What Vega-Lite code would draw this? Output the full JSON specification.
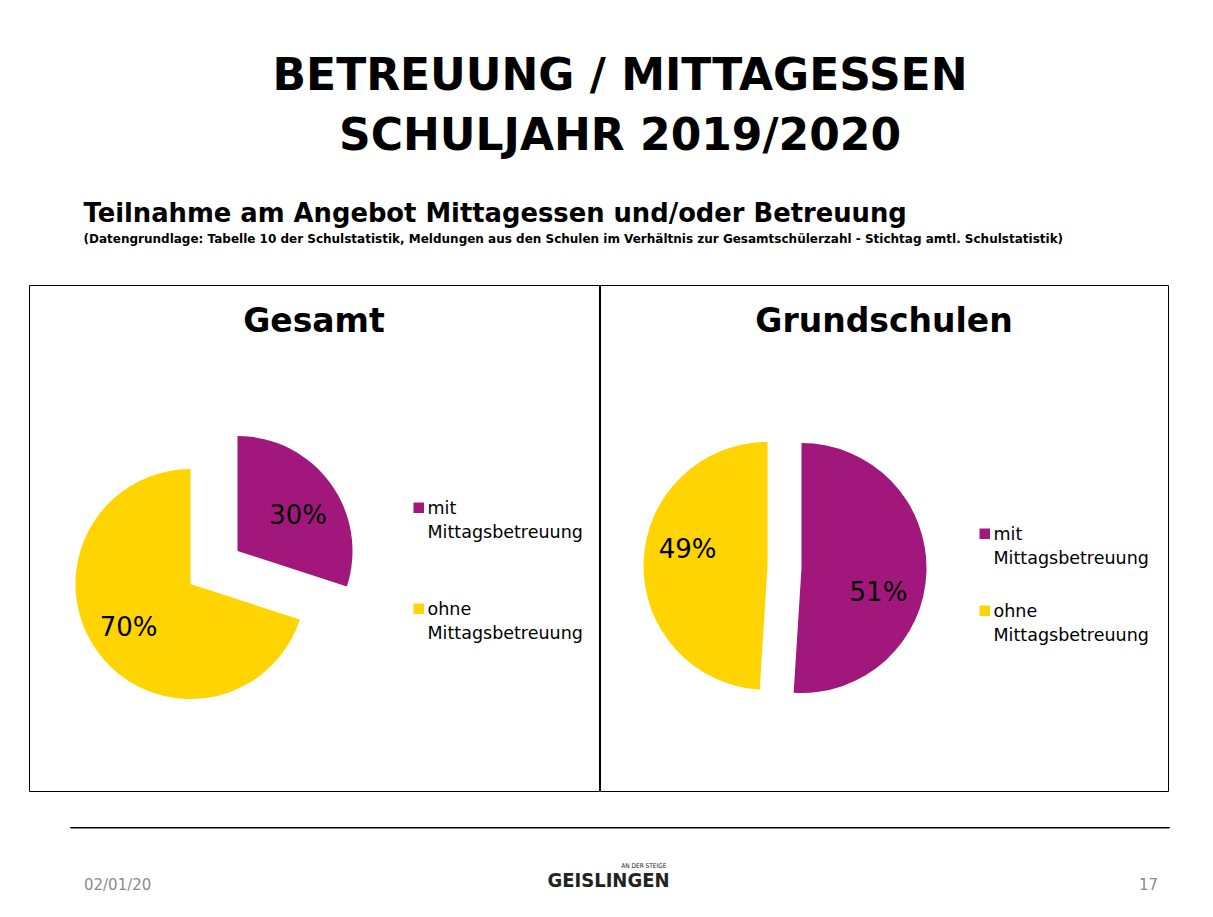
{
  "$schema": "https://vega.github.io/schema/vega-lite/v6.json",
  "background": "white",
  "padding": {"left": 28, "top": 54, "right": 0, "bottom": 0},
  "autosize": {"type": "pad"},
  "config": {
    "font": "DejaVu Sans",
    "view": {"stroke": null},
    "title": {"color": "black"},
    "style": {"guide-label": {"lineHeight": 24}}
  },
  "title": {
    "text": ["BETREUUNG / MITTAGESSEN", "SCHULJAHR 2019/2020"],
    "font": "DejaVu Sans",
    "fontSize": 44,
    "fontWeight": "bold",
    "lineHeight": 60,
    "anchor": "middle",
    "dx": 21,
    "offset": 42,
    "color": "black"
  },
  "datasets": {
    "gesamt": [
      {"kategorie": "mit Mittagsbetreuung", "anteil": 0.30},
      {"kategorie": "ohne Mittagsbetreuung", "anteil": 0.70}
    ],
    "grundschulen": [
      {"kategorie": "mit Mittagsbetreuung", "anteil": 0.51},
      {"kategorie": "ohne Mittagsbetreuung", "anteil": 0.49}
    ],
    "fusszeile": [
      {"position": "links", "teil": "datum", "text": "02/01/20"},
      {"position": "mitte", "teil": "logo", "text": "GEISLINGEN"},
      {"position": "mitte", "teil": "zusatz", "text": "AN DER STEIGE"},
      {"position": "rechts", "teil": "seite", "text": "17"}
    ]
  },
  "spacing": 34,
  "vconcat": [
    {
      "title": {
        "text": "Teilnahme am Angebot Mittagessen und/oder Betreuung",
        "subtitle": "(Datengrundlage: Tabelle 10 der Schulstatistik, Meldungen aus den Schulen im Verhältnis zur Gesamtschülerzahl - Stichtag amtl. Schulstatistik)",
        "anchor": "start",
        "dx": 55,
        "font": "DejaVu Sans",
        "fontSize": 25.8,
        "fontWeight": "bold",
        "subtitleFont": "DejaVu Sans",
        "subtitleFontSize": 12,
        "subtitleFontWeight": "bold",
        "subtitleColor": "black",
        "subtitlePadding": 6,
        "offset": 39
      },
      "spacing": -2,
      "resolve": {"scale": {"color": "independent"}, "legend": {"color": "independent"}},
      "hconcat": [
        {
          "width": 570,
          "height": 506,
          "view": {"stroke": "black", "strokeWidth": 1},
          "title": {"text": "Gesamt", "fontSize": 33, "fontWeight": "bold", "anchor": "middle", "baseline": "alphabetic", "offset": -80},
          "data": {"name": "gesamt"},
          "encoding": {
            "theta": {"field": "anteil", "type": "quantitative", "stack": true},
            "order": {"field": "kategorie", "sort": "ascending"},
            "color": {
              "field": "kategorie",
              "type": "nominal",
              "scale": {"domain": ["mit Mittagsbetreuung", "ohne Mittagsbetreuung"], "range": ["#A2177C", "#FFD400"]},
              "legend": {
                "orient": "none",
                "legendX": 381,
                "legendY": 206,
                "title": null,
                "symbolType": "M-1,0.53H1V2.53H-1Z",
                "symbolSize": 110,
                "symbolStrokeWidth": 0,
                "labelFontSize": 17.5,
                "labelFont": "DejaVu Sans",
                "labelColor": "black",
                "labelBaseline": "top",
                "labelOffset": 0,
                "rowPadding": 50,
                "labelExpr": "split(datum.label, ' ')"
              }
            }
          },
          "layer": [
            {
              "mark": {"type": "arc", "radius": 115, "xOffset": -76.5, "yOffset": 13},
              "encoding": {"opacity": {"condition": {"test": "datum.kategorie === 'mit Mittagsbetreuung'", "value": 1}, "value": 0}}
            },
            {
              "mark": {"type": "arc", "radius": 115, "xOffset": -123.5, "yOffset": 46},
              "encoding": {"opacity": {"condition": {"test": "datum.kategorie === 'ohne Mittagsbetreuung'", "value": 1}, "value": 0}}
            },
            {
              "mark": {"type": "text", "radius": 70, "xOffset": -76.5, "yOffset": 13, "dx": 4, "dy": 6, "fontSize": 26, "font": "DejaVu Sans"},
              "encoding": {
                "color": {"value": "black"},
                "detail": {"field": "kategorie"},
                "text": {"condition": {"test": "datum.kategorie === 'mit Mittagsbetreuung'", "field": "anteil", "type": "quantitative", "format": ".0%"}, "value": ""}
              }
            },
            {
              "mark": {"type": "text", "radius": 74, "xOffset": -123.5, "yOffset": 46, "dx": -2, "dy": 1, "fontSize": 26, "font": "DejaVu Sans"},
              "encoding": {
                "color": {"value": "black"},
                "detail": {"field": "kategorie"},
                "text": {"condition": {"test": "datum.kategorie === 'ohne Mittagsbetreuung'", "field": "anteil", "type": "quantitative", "format": ".0%"}, "value": ""}
              }
            }
          ]
        },
        {
          "width": 568,
          "height": 506,
          "view": {"stroke": "black", "strokeWidth": 1},
          "title": {"text": "Grundschulen", "fontSize": 33, "fontWeight": "bold", "anchor": "middle", "baseline": "alphabetic", "offset": -80},
          "data": {"name": "grundschulen"},
          "encoding": {
            "theta": {"field": "anteil", "type": "quantitative", "stack": true},
            "order": {"field": "kategorie", "sort": "ascending"},
            "color": {
              "field": "kategorie",
              "type": "nominal",
              "scale": {"domain": ["mit Mittagsbetreuung", "ohne Mittagsbetreuung"], "range": ["#A2177C", "#FFD400"]},
              "legend": {
                "orient": "none",
                "legendX": 376,
                "legendY": 232,
                "title": null,
                "symbolType": "M-1,0.53H1V2.53H-1Z",
                "symbolSize": 110,
                "symbolStrokeWidth": 0,
                "labelFontSize": 17.5,
                "labelFont": "DejaVu Sans",
                "labelColor": "black",
                "labelBaseline": "top",
                "labelOffset": 0,
                "rowPadding": 26,
                "labelExpr": "split(datum.label, ' ')"
              }
            }
          },
          "layer": [
            {
              "mark": {"type": "arc", "radius": 125, "xOffset": -82.5, "yOffset": 30},
              "encoding": {"opacity": {"condition": {"test": "datum.kategorie === 'mit Mittagsbetreuung'", "value": 1}, "value": 0}}
            },
            {
              "mark": {"type": "arc", "radius": 124, "xOffset": -116.5, "yOffset": 28},
              "encoding": {"opacity": {"condition": {"test": "datum.kategorie === 'ohne Mittagsbetreuung'", "value": 1}, "value": 0}}
            },
            {
              "mark": {"type": "text", "radius": 80, "xOffset": -82.5, "yOffset": 30, "dx": -3, "dy": 22, "fontSize": 26, "font": "DejaVu Sans"},
              "encoding": {
                "color": {"value": "black"},
                "detail": {"field": "kategorie"},
                "text": {"condition": {"test": "datum.kategorie === 'mit Mittagsbetreuung'", "field": "anteil", "type": "quantitative", "format": ".0%"}, "value": ""}
              }
            },
            {
              "mark": {"type": "text", "radius": 80, "xOffset": -116.5, "yOffset": 28, "dy": -13, "fontSize": 26, "font": "DejaVu Sans"},
              "encoding": {
                "color": {"value": "black"},
                "detail": {"field": "kategorie"},
                "text": {"condition": {"test": "datum.kategorie === 'ohne Mittagsbetreuung'", "field": "anteil", "type": "quantitative", "format": ".0%"}, "value": ""}
              }
            }
          ]
        }
      ]
    },
    {
      "spacing": 39,
      "hconcat": [
        {
          "width": 1,
          "height": 1,
          "data": {"values": []},
          "mark": {"type": "point", "opacity": 0}
        },
        {
          "width": 1099,
          "height": 0.5,
          "view": {"stroke": "black", "strokeWidth": 1},
          "data": {"name": "fusszeile"},
          "encoding": {
            "x": {"field": "position", "type": "nominal", "axis": null, "scale": {"type": "point", "domain": ["links", "mitte", "rechts"], "padding": 0.0242}},
            "text": {"field": "text"}
          },
          "layer": [
            {"transform": [{"filter": "datum.teil === 'datum'"}], "mark": {"type": "text", "align": "left", "dx": 1, "dy": 58, "fontSize": 15, "color": "#8c8c8c"}},
            {"transform": [{"filter": "datum.teil === 'logo'"}], "mark": {"type": "text", "align": "center", "dx": -11, "dy": 54, "fontSize": 20, "font": "DejaVu Sans Condensed", "fontWeight": "bold", "color": "#222222"}},
            {"transform": [{"filter": "datum.teil === 'zusatz'"}], "mark": {"type": "text", "align": "right", "dx": 47, "dy": 39, "fontSize": 6.5, "font": "DejaVu Sans Condensed", "color": "#222222"}},
            {"transform": [{"filter": "datum.teil === 'seite'"}], "mark": {"type": "text", "align": "right", "dx": 2, "dy": 58, "fontSize": 15, "color": "#8c8c8c"}}
          ]
        }
      ]
    }
  ]
}
